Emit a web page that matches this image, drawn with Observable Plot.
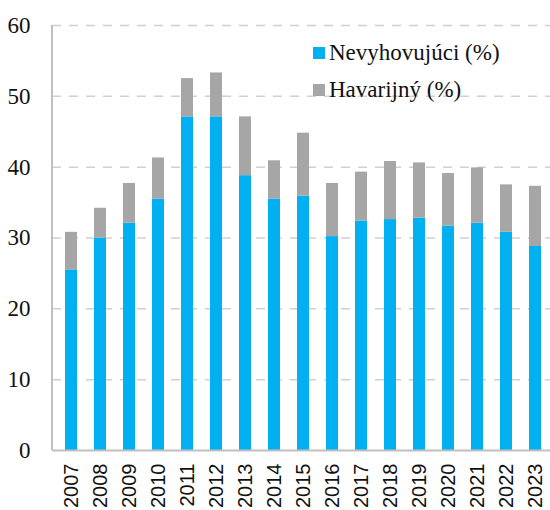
<!DOCTYPE html>
<html>
<head>
<meta charset="utf-8">
<script src="https://cdn.jsdelivr.net/npm/d3@7"></script>
<script src="https://cdn.jsdelivr.net/npm/@observablehq/plot@0.6"></script>
<style>
  html, body { margin: 0; padding: 0; background: #fff; overflow: hidden; }
  #wrap { position: relative; width: 550px; height: 510px; }
  #legend { position: absolute; left: 313px; top: 34px; font-family: "Liberation Serif", "Times New Roman", serif; font-size: 23px; color: #111; line-height: 37px; }
  #legend .row { display: flex; align-items: center; white-space: nowrap; }
  #legend .sw { width: 12px; height: 12px; margin-right: 4px; display: inline-block; }
</style>
</head>
<body>
<div id="wrap"><div id="legend"></div></div>
<script>
const years = ["2007","2008","2009","2010","2011","2012","2013","2014","2015","2016","2017","2018","2019","2020","2021","2022","2023"];
const nevyhovujuci = [25.5, 30.0, 32.1, 35.5, 47.1, 47.1, 38.8, 35.5, 35.9, 30.2, 32.4, 32.6, 32.8, 31.7, 32.1, 30.8, 28.8];
const havarijny    = [5.3, 4.2, 5.6, 5.8, 5.4, 6.2, 8.3, 5.4, 8.9, 7.5, 6.9, 8.2, 7.8, 7.4, 7.8, 6.7, 8.5];
const seriesNames = ["Nevyhovujúci (%)", "Havarijný (%)"];
const seriesColors = ["#00b0f0", "#a6a6a6"];
const yTicks = [0, 10, 20, 30, 40, 50, 60];

const data = [];
years.forEach((y, i) => {
  data.push({year: y, series: seriesNames[0], value: nevyhovujuci[i]});
  data.push({year: y, series: seriesNames[1], value: havarijny[i]});
});

const leftLine = (index, scales, values, dim) => {
  const g = d3.create("svg:line")
    .attr("x1", dim.marginLeft).attr("x2", dim.marginLeft)
    .attr("y1", scales.y(60)).attr("y2", scales.y(0))
    .attr("stroke", "#c0c0c0").attr("stroke-width", 2);
  return g.node();
};

const chart = Plot.plot({
  width: 550,
  height: 510,
  marginLeft: 52,
  marginRight: 0,
  marginTop: 25,
  marginBottom: 60,
  style: {background: "#fff", overflow: "hidden"},
  x: {domain: years, range: [42.4, 563.2], padding: 0.595, label: null},
  y: {domain: [0, 60], label: null},
  color: {domain: seriesNames, range: seriesColors},
  marks: [
    Plot.gridY(yTicks.filter(d => d > 0), {stroke: "#d0d0d0", strokeOpacity: 1, strokeWidth: 1.5, strokeDasharray: "9,8"}),
    Plot.barY(data, Plot.stackY({x: "year", y: "value", fill: "series", order: seriesNames})),
    Plot.ruleY([0], {stroke: "#c0c0c0", strokeWidth: 2}),
    leftLine,
    Plot.axisY({ticks: yTicks, tickSize: 0, tickPadding: 22, fontSize: 23, fontFamily: "Liberation Serif", fill: "#111", label: null}),
    Plot.axisX({tickSize: 0, tickPadding: 13, tickRotate: -90, fontSize: 20, fontFamily: "Liberation Sans", fill: "#111", label: null})
  ]
});
document.getElementById("wrap").prepend(chart);

const legend = d3.select("#legend");
seriesNames.forEach((n, i) => {
  const row = legend.append("div").attr("class", "row");
  row.append("span").attr("class", "sw").style("background", seriesColors[i]);
  row.append("span").text(n);
});
</script>
</body>
</html>
